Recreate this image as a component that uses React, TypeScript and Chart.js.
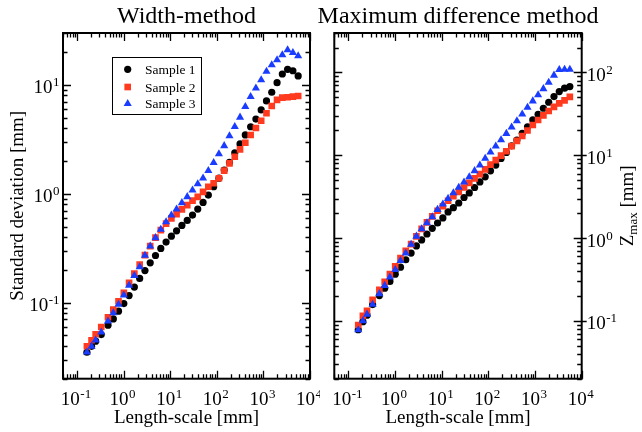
import React, { useEffect, useRef } from 'react';
import { Chart, registerables } from 'chart.js';

Chart.register(...registerables);

const SERIF = "'Liberation Serif', 'Times New Roman', serif";

// Length-scale [mm] (shared by both panels)
const lengthScale = [
  0.163, 0.205, 0.251, 0.331, 0.462, 0.601, 0.777, 1.01, 1.31, 1.70,
  2.21, 2.87, 3.72, 4.83, 6.28, 8.15, 10.6, 13.7, 17.8, 23.2,
  30.1, 39.0, 50.7, 65.8, 85.5, 111, 144, 187, 243, 315,
  409, 532, 690, 896, 1164, 1510, 1963, 2547, 3306, 4296, 5570,
];

// Width-method: standard deviation [mm]
const widthSample1 = [
  0.035, 0.0397, 0.0442, 0.0509, 0.0620, 0.0708, 0.0834, 0.0981, 0.116, 0.139,
  0.167, 0.197, 0.232, 0.271, 0.315, 0.360, 0.408, 0.457, 0.512, 0.569,
  0.637, 0.723, 0.833, 0.973, 1.16, 1.39, 1.65, 1.94, 2.38, 2.87,
  3.47, 4.13, 4.86, 5.89, 7.13, 8.57, 10.5, 12.6, 13.9, 13.5, 12.1,
];
const widthSample2 = [
  0.0397, 0.0451, 0.0512, 0.0597, 0.0734, 0.0863, 0.103, 0.123, 0.152, 0.185,
  0.224, 0.273, 0.330, 0.395, 0.463, 0.532, 0.594, 0.651, 0.718, 0.787,
  0.865, 0.938, 1.04, 1.16, 1.25, 1.39, 1.63, 1.90, 2.19, 2.56,
  2.94, 3.47, 4.02, 4.69, 5.49, 6.41, 7.28, 7.64, 7.71, 7.80, 7.92,
];
const widthSample3 = [
  0.035, 0.0397, 0.0451, 0.0535, 0.0675, 0.0804, 0.0961, 0.117, 0.144, 0.177,
  0.213, 0.271, 0.330, 0.394, 0.470, 0.552, 0.637, 0.723, 0.826, 0.938,
  1.08, 1.23, 1.39, 1.63, 1.93, 2.32, 2.76, 3.40, 4.13, 5.04,
  6.31, 7.80, 9.33, 11.1, 13.3, 15.3, 17.0, 18.9, 21.0, 19.8, 18.5,
];

// Maximum difference method: Z_max [mm]
const maxSample1 = [
  0.078, 0.0977, 0.117, 0.157, 0.202, 0.248, 0.299, 0.366, 0.445, 0.547,
  0.658, 0.804, 0.950, 1.12, 1.31, 1.52, 1.75, 2.07, 2.33, 2.65,
  3.09, 3.51, 4.08, 4.77, 5.49, 6.49, 7.61, 9.17, 10.8, 13.0,
  15.3, 18.4, 22.1, 26.7, 31.3, 37.0, 43.7, 51.2, 58.9, 64.7, 67.6,
];
const maxSample2 = [
  0.0891, 0.115, 0.132, 0.179, 0.237, 0.296, 0.366, 0.454, 0.573, 0.703,
  0.846, 1.05, 1.29, 1.55, 1.83, 2.14, 2.42, 2.82, 3.20, 3.61,
  4.08, 4.64, 5.25, 5.92, 6.75, 7.71, 8.75, 9.92, 11.2, 12.9,
  14.9, 17.1, 19.9, 23.2, 26.7, 30.3, 34.3, 38.4, 42.3, 46.0, 50.7,
];
const maxSample3 = [
  0.0776, 0.0998, 0.120, 0.158, 0.212, 0.267, 0.337, 0.414, 0.532, 0.658,
  0.839, 1.05, 1.29, 1.52, 1.80, 2.21, 2.56, 3.00, 3.51, 4.08,
  4.73, 5.49, 6.49, 7.61, 9.17, 10.9, 12.9, 15.3, 18.3, 21.8,
  26.0, 31.3, 37.8, 45.2, 53.7, 63.5, 76.0, 92.5, 108, 109, 109,
];

const seriesNames = ['Sample 1', 'Sample 2', 'Sample 3'];
const seriesColors = ['#000000', '#ff3a1f', '#1a3cff'];
const seriesStyles = ['circle', 'rect', 'triangle'];
const seriesRadii = [3.6, 4.7, 4.7];

const xTickExps = [-1, 0, 1, 2, 3, 4];
const leftYTickExps = [-1, 0, 1];
const rightYTickExps = [-1, 0, 1, 2];

const leftTitle = 'Width-method';
const rightTitle = 'Maximum difference method';
const xAxisTitle = 'Length-scale [mm]';
const leftYTitle = 'Standard deviation [mm]';
const rightYTitleMain = 'Z';
const rightYTitleSub = 'max';
const rightYTitleUnit = ' [mm]';

function makeDatasets(series: number[][]) {
  return series.map((arr, k) => ({
    label: seriesNames[k],
    data: lengthScale.map((x, i) => ({ x, y: arr[i] })),
    showLine: false,
    pointStyle: seriesStyles[k],
    pointRadius: seriesRadii[k],
    pointHoverRadius: seriesRadii[k],
    pointBackgroundColor: seriesColors[k],
    pointBorderColor: seriesColors[k],
    backgroundColor: seriesColors[k],
    borderColor: seriesColors[k],
    pointBorderWidth: 0,
    borderWidth: 0,
    order: 2 - k,
  }));
}

function logTicks(min: number, max: number) {
  const out: { v: number; major: boolean }[] = [];
  for (let e = Math.floor(Math.log10(min)) - 1; e <= Math.ceil(Math.log10(max)); e++) {
    for (let d = 1; d <= 9; d++) {
      const v = d * Math.pow(10, e);
      if (v >= min * 0.999 && v <= max * 1.001) out.push({ v, major: d === 1 });
    }
  }
  return out;
}

function drawPow(ctx: CanvasRenderingContext2D, exp: number, x: number, y: number, align: string) {
  const base = '10';
  const sup = String(exp);
  ctx.font = `19px ${SERIF}`;
  const bw = ctx.measureText(base).width;
  ctx.font = `13px ${SERIF}`;
  const sw = ctx.measureText(sup).width;
  const total = bw + sw + 0.5;
  const x0 = align === 'center' ? x - total / 2 : align === 'right' ? x - total : x;
  ctx.textAlign = 'left';
  ctx.textBaseline = 'alphabetic';
  ctx.font = `19px ${SERIF}`;
  ctx.fillText(base, x0, y);
  ctx.font = `13px ${SERIF}`;
  ctx.fillText(sup, x0 + bw + 0.5, y - 7);
}

function drawSymbol(ctx: CanvasRenderingContext2D, style: string, x: number, y: number, r: number, color: string) {
  ctx.fillStyle = color;
  ctx.beginPath();
  if (style === 'circle') {
    ctx.arc(x, y, r, 0, Math.PI * 2);
  } else if (style === 'rect') {
    const s = Math.SQRT1_2 * r;
    ctx.rect(x - s, y - s, 2 * s, 2 * s);
  } else {
    let rad = 0;
    ctx.moveTo(x + Math.sin(rad) * r, y - Math.cos(rad) * r);
    rad += (2 * Math.PI) / 3;
    ctx.lineTo(x + Math.sin(rad) * r, y - Math.cos(rad) * r);
    rad += (2 * Math.PI) / 3;
    ctx.lineTo(x + Math.sin(rad) * r, y - Math.cos(rad) * r);
    ctx.closePath();
  }
  ctx.fill();
}

function makePanelPlugin(cfg: {
  side: 'left' | 'right';
  title: string;
  yExps: number[];
  offsetX: number;
}) {
  return {
    id: 'panelDecor' + cfg.side,
    afterDraw(chart: any) {
      const ctx: CanvasRenderingContext2D = chart.ctx;
      const a = chart.chartArea;
      const xs = chart.scales.x;
      const ys = chart.scales.y;
      const off = cfg.offsetX;
      ctx.save();
      ctx.strokeStyle = '#000';
      ctx.fillStyle = '#000';

      // ticks (inward on all four sides)
      ctx.lineWidth = 1.3;
      ctx.beginPath();
      for (const t of logTicks(xs.min, xs.max)) {
        const px = Math.round(xs.getPixelForValue(t.v)) + 0.5;
        const len = t.major ? 8 : 4.5;
        ctx.moveTo(px, a.bottom);
        ctx.lineTo(px, a.bottom - len);
        ctx.moveTo(px, a.top);
        ctx.lineTo(px, a.top + len);
      }
      for (const t of logTicks(ys.min, ys.max)) {
        const py = Math.round(ys.getPixelForValue(t.v)) + 0.5;
        const len = t.major ? 8 : 4.5;
        ctx.moveTo(a.left, py);
        ctx.lineTo(a.left + len, py);
        ctx.moveTo(a.right, py);
        ctx.lineTo(a.right - len, py);
        if (cfg.side === 'right' && t.major) {
          ctx.moveTo(a.right, py);
          ctx.lineTo(a.right + 5, py);
        }
      }
      ctx.stroke();

      // frame
      ctx.lineWidth = 2;
      ctx.strokeRect(a.left, a.top, a.right - a.left, a.bottom - a.top);

      // x tick labels
      for (const e of xTickExps) {
        const px = xs.getPixelForValue(Math.pow(10, e));
        drawPow(ctx, e, px - 1, 404.5, 'center');
      }
      // y tick labels
      for (const e of cfg.yExps) {
        const py = ys.getPixelForValue(Math.pow(10, e));
        if (cfg.side === 'left') drawPow(ctx, e, a.left - 3.5, py + 8.5, 'right');
        else drawPow(ctx, e, a.right + 5, py + 8.5, 'left');
      }

      const cx = (a.left + a.right) / 2;
      // title
      ctx.textAlign = 'center';
      ctx.textBaseline = 'alphabetic';
      ctx.font = `24px ${SERIF}`;
      ctx.fillText(cfg.title, cx, 23);
      // x axis title
      ctx.font = `19px ${SERIF}`;
      ctx.fillText(xAxisTitle, cx, 422.5);

      const cy = (a.top + a.bottom) / 2;
      if (cfg.side === 'left') {
        ctx.save();
        ctx.translate(23 - off, cy);
        ctx.rotate(-Math.PI / 2);
        ctx.textAlign = 'center';
        ctx.font = `19px ${SERIF}`;
        ctx.fillText(leftYTitle, 0, 0);
        ctx.restore();

        // legend
        ctx.lineWidth = 1;
        ctx.strokeStyle = '#000';
        ctx.strokeRect(112.5 - off, 57.5, 89, 57);
        const rows = [69.3, 87, 103.7];
        ctx.font = `13.5px ${SERIF}`;
        for (let k = 0; k < 3; k++) {
          drawSymbol(ctx, seriesStyles[k], 127.7 - off, rows[k], seriesRadii[k], seriesColors[k]);
          ctx.fillStyle = '#000';
          ctx.textAlign = 'left';
          ctx.fillText(seriesNames[k], 145 - off, rows[k] + 4.6);
        }
      } else {
        ctx.save();
        ctx.translate(633 - off, cy);
        ctx.rotate(-Math.PI / 2);
        ctx.textAlign = 'left';
        ctx.font = `19px ${SERIF}`;
        const wZ = ctx.measureText(rightYTitleMain).width;
        const wU = ctx.measureText(rightYTitleUnit).width;
        ctx.font = `13px ${SERIF}`;
        const wM = ctx.measureText(rightYTitleSub).width;
        const x0 = -(wZ + wM + wU) / 2;
        ctx.font = `19px ${SERIF}`;
        ctx.fillText(rightYTitleMain, x0, 0);
        ctx.font = `13px ${SERIF}`;
        ctx.fillText(rightYTitleSub, x0 + wZ, 4);
        ctx.font = `19px ${SERIF}`;
        ctx.fillText(rightYTitleUnit, x0 + wZ + wM, 0);
        ctx.restore();
      }
      ctx.restore();
    },
  };
}

function makeChart(
  canvas: HTMLCanvasElement,
  series: number[][],
  yMin: number,
  yMax: number,
  pad: { left: number; right: number },
  plugin: any
) {
  return new Chart(canvas, {
    type: 'scatter',
    data: { datasets: makeDatasets(series) as any },
    options: {
      responsive: false,
      animation: false,
      events: [],
      layout: { padding: { left: pad.left, right: pad.right, top: 33, bottom: 432 - 378.7 } },
      plugins: {
        legend: { display: false },
        tooltip: { enabled: false },
        title: { display: false },
      },
      scales: {
        x: { type: 'logarithmic', min: 0.05, max: 10000, display: false },
        y: { type: 'logarithmic', min: yMin, max: yMax, display: false },
      },
    } as any,
    plugins: [plugin],
  });
}

export default function App() {
  const leftRef = useRef<HTMLCanvasElement>(null);
  const rightRef = useRef<HTMLCanvasElement>(null);

  useEffect(() => {
    const leftOff = 0;
    const rightOff = 290;
    const c1 = makeChart(
      leftRef.current!,
      [widthSample1, widthSample2, widthSample3],
      0.02,
      30,
      { left: 63 - leftOff, right: 320 - (310 - leftOff) },
      makePanelPlugin({ side: 'left', title: leftTitle, yExps: leftYTickExps, offsetX: leftOff })
    );
    const c2 = makeChart(
      rightRef.current!,
      [maxSample1, maxSample2, maxSample3],
      0.02,
      300,
      { left: 334.3 - rightOff, right: 352 - (581.7 - rightOff) },
      makePanelPlugin({ side: 'right', title: rightTitle, yExps: rightYTickExps, offsetX: rightOff })
    );
    return () => {
      c1.destroy();
      c2.destroy();
    };
  }, []);

  return (
    <div style={{ position: 'absolute', left: 0, top: 0, width: 642, height: 432, background: '#fff' }}>
      <canvas ref={leftRef} width={320} height={432} style={{ position: 'absolute', left: 0, top: 0 }} />
      <canvas ref={rightRef} width={352} height={432} style={{ position: 'absolute', left: 290, top: 0 }} />
    </div>
  );
}
